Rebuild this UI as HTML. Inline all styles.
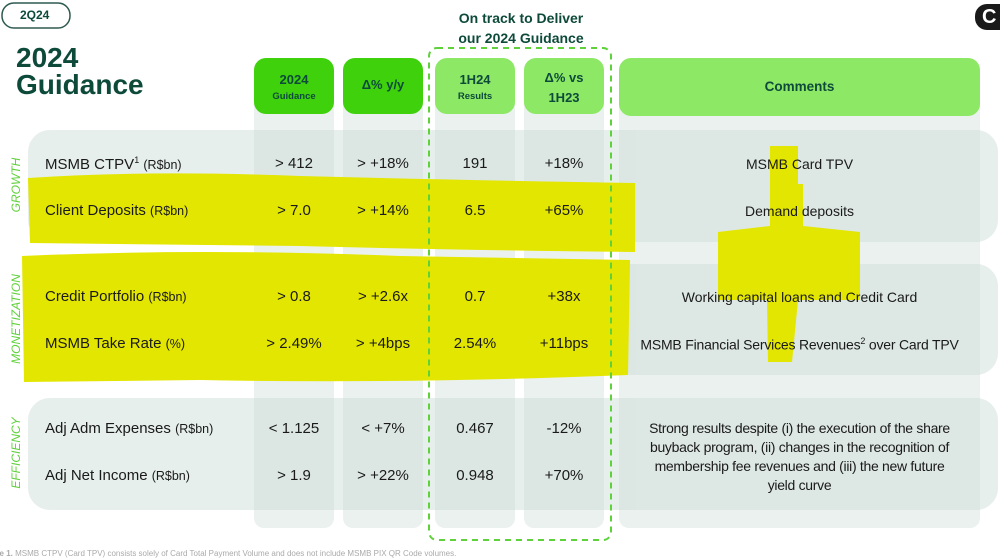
<!DOCTYPE html><html><head><meta charset="utf-8"><style>
body{margin:0;width:1000px;height:560px;overflow:hidden;background:#fff;font-family:"Liberation Sans",sans-serif;position:relative}
.t{position:absolute;white-space:nowrap;color:#1a1a1a}
.c{text-align:center}
.lab{font-size:15px;left:45px}
.lab small{font-size:12.5px}
.v{font-size:15px}
.h{color:#0d4a3a;font-weight:bold}
.side{position:absolute;color:#5fd13a;font-style:italic;font-size:12px;transform:rotate(-90deg);transform-origin:center;white-space:nowrap;text-align:center;width:120px}
</style></head><body>
<svg width="1000" height="560" style="position:absolute;left:0;top:0">
<g fill="#ebf1ef">
<rect x="254" y="80" width="80" height="448" rx="10"/>
<rect x="343" y="80" width="80" height="448" rx="10"/>
<rect x="435" y="80" width="80" height="448" rx="10"/>
<rect x="524" y="80" width="80" height="448" rx="10"/>
<rect x="619" y="80" width="361" height="448" rx="10"/>
</g>
<g fill="#e6efec">
<rect x="28" y="130" width="970" height="112" rx="22"/>
<rect x="28" y="264" width="970" height="111" rx="22"/>
<rect x="28" y="398" width="970" height="112" rx="22"/>
</g>
<g fill="#d8e4e1" opacity="0.7">
<rect x="254" y="130" width="80" height="112"/><rect x="343" y="130" width="80" height="112"/><rect x="435" y="130" width="80" height="112"/><rect x="524" y="130" width="80" height="112"/><rect x="619" y="130" width="361" height="112"/>
<rect x="254" y="264" width="80" height="111"/><rect x="343" y="264" width="80" height="111"/><rect x="435" y="264" width="80" height="111"/><rect x="524" y="264" width="80" height="111"/><rect x="619" y="264" width="361" height="111"/>
<rect x="254" y="398" width="80" height="112"/><rect x="343" y="398" width="80" height="112"/><rect x="435" y="398" width="80" height="112"/><rect x="524" y="398" width="80" height="112"/><rect x="619" y="398" width="361" height="112"/>
</g>
<rect x="254" y="58" width="80" height="56" rx="12" fill="#3fd20c"/>
<rect x="343" y="58" width="80" height="56" rx="12" fill="#3fd20c"/>
<rect x="435" y="58" width="80" height="56" rx="12" fill="#8de866"/>
<rect x="524" y="58" width="80" height="56" rx="12" fill="#8de866"/>
<rect x="619" y="58" width="361" height="58" rx="12" fill="#8de866"/>
<g fill="#e3e600">
<path d="M28,178 Q150,170 300,176 Q450,180 635,183 L635,252 Q450,250 300,246 L30,243 Z"/>
<path d="M22,256 Q200,248 400,256 L630,260 L628,375 Q400,384 200,380 L24,382 Z"/>
<path d="M770,146 L798,146 L798,184 L803,184 L803,226 L860,232 L860,300 L798,300 L792,362 L768,362 L767,300 L718,300 L718,232 L770,226 Z"/>
</g>
<rect x="429" y="48" width="182" height="492" rx="8" fill="none" stroke="#5fd13a" stroke-width="2" stroke-dasharray="6,5"/>
<rect x="2" y="3" width="68" height="25" rx="12" fill="none" stroke="#2d5a50" stroke-width="1.5"/>
<rect x="975" y="4" width="40" height="26" rx="12" fill="#1a1a1a"/>
</svg>
<div class="t h" style="left:20px;top:8px;font-size:12px">2Q24</div>
<div class="t" style="left:982px;top:6px;font-size:20px;font-weight:bold;color:#fff">C</div>
<div class="t h" style="left:16px;top:44px;font-size:28px;line-height:27px">2024<br>Guidance</div>
<div class="t h c" style="left:421px;top:8px;width:200px;font-size:14px;line-height:20px">On track to Deliver<br>our 2024 Guidance</div>
<div class="t h c" style="left:254px;top:72px;width:80px;font-size:13px;line-height:15px">2024<br><span style="font-size:9.5px">Guidance</span></div>
<div class="t h c" style="left:343px;top:77px;width:80px;font-size:13px">Δ% y/y</div>
<div class="t h c" style="left:435px;top:72px;width:80px;font-size:13px;line-height:15px">1H24<br><span style="font-size:9.5px">Results</span></div>
<div class="t h c" style="left:524px;top:68px;width:80px;font-size:13px;line-height:20px">Δ% vs<br>1H23</div>
<div class="t h c" style="left:619px;top:79px;width:361px;font-size:13.5px">Comments</div>
<div class="side" style="left:-44px;top:178px">GROWTH</div>
<div class="side" style="left:-44px;top:312px">MONETIZATION</div>
<div class="side" style="left:-44px;top:446px">EFFICIENCY</div>

<div class="t lab" style="top:155px">MSMB CTPV<sup style="font-size:9px">1</sup> <small>(R$bn)</small></div>
<div class="t lab" style="top:202px">Client Deposits <small>(R$bn)</small></div>
<div class="t lab" style="top:288px">Credit Portfolio <small>(R$bn)</small></div>
<div class="t lab" style="top:335px">MSMB Take Rate <small>(%)</small></div>
<div class="t lab" style="top:420px">Adj Adm Expenses <small>(R$bn)</small></div>
<div class="t lab" style="top:467px">Adj Net Income <small>(R$bn)</small></div>

<div class="t v c" style="left:244px;width:100px;top:155px">&gt; 412</div>
<div class="t v c" style="left:333px;width:100px;top:155px">&gt; +18%</div>
<div class="t v c" style="left:425px;width:100px;top:155px">191</div>
<div class="t v c" style="left:514px;width:100px;top:155px">+18%</div>
<div class="t v c" style="left:244px;width:100px;top:202px">&gt; 7.0</div>
<div class="t v c" style="left:333px;width:100px;top:202px">&gt; +14%</div>
<div class="t v c" style="left:425px;width:100px;top:202px">6.5</div>
<div class="t v c" style="left:514px;width:100px;top:202px">+65%</div>
<div class="t v c" style="left:244px;width:100px;top:288px">&gt; 0.8</div>
<div class="t v c" style="left:333px;width:100px;top:288px">&gt; +2.6x</div>
<div class="t v c" style="left:425px;width:100px;top:288px">0.7</div>
<div class="t v c" style="left:514px;width:100px;top:288px">+38x</div>
<div class="t v c" style="left:244px;width:100px;top:335px">&gt; 2.49%</div>
<div class="t v c" style="left:333px;width:100px;top:335px">&gt; +4bps</div>
<div class="t v c" style="left:425px;width:100px;top:335px">2.54%</div>
<div class="t v c" style="left:514px;width:100px;top:335px">+11bps</div>
<div class="t v c" style="left:244px;width:100px;top:420px">&lt; 1.125</div>
<div class="t v c" style="left:333px;width:100px;top:420px">&lt; +7%</div>
<div class="t v c" style="left:425px;width:100px;top:420px">0.467</div>
<div class="t v c" style="left:514px;width:100px;top:420px">-12%</div>
<div class="t v c" style="left:244px;width:100px;top:467px">&gt; 1.9</div>
<div class="t v c" style="left:333px;width:100px;top:467px">&gt; +22%</div>
<div class="t v c" style="left:425px;width:100px;top:467px">0.948</div>
<div class="t v c" style="left:514px;width:100px;top:467px">+70%</div>

<div class="t c" style="left:619px;width:361px;top:156px;font-size:14px">MSMB Card TPV</div>
<div class="t c" style="left:619px;width:361px;top:203px;font-size:14px">Demand deposits</div>
<div class="t c" style="left:619px;width:361px;top:289px;font-size:14px">Working capital loans and Credit Card</div>
<div class="t c" style="left:619px;width:361px;top:336px;font-size:14px;letter-spacing:-0.2px">MSMB Financial Services Revenues<sup style="font-size:9px">2</sup> over Card TPV</div>
<div class="t c" style="left:619px;width:361px;top:419px;font-size:14px;line-height:19px;letter-spacing:-0.3px">Strong results despite (i) the execution of the share<br>buyback program, (ii) changes in the recognition of<br>membership fee revenues and (iii) the new future<br>yield curve</div>
<div class="t" style="left:-8px;top:549px;font-size:8px;color:#aaa"><b>ote 1.</b> MSMB CTPV (Card TPV) consists solely of Card Total Payment Volume and does not include MSMB PIX QR Code volumes.</div>
</body></html>
